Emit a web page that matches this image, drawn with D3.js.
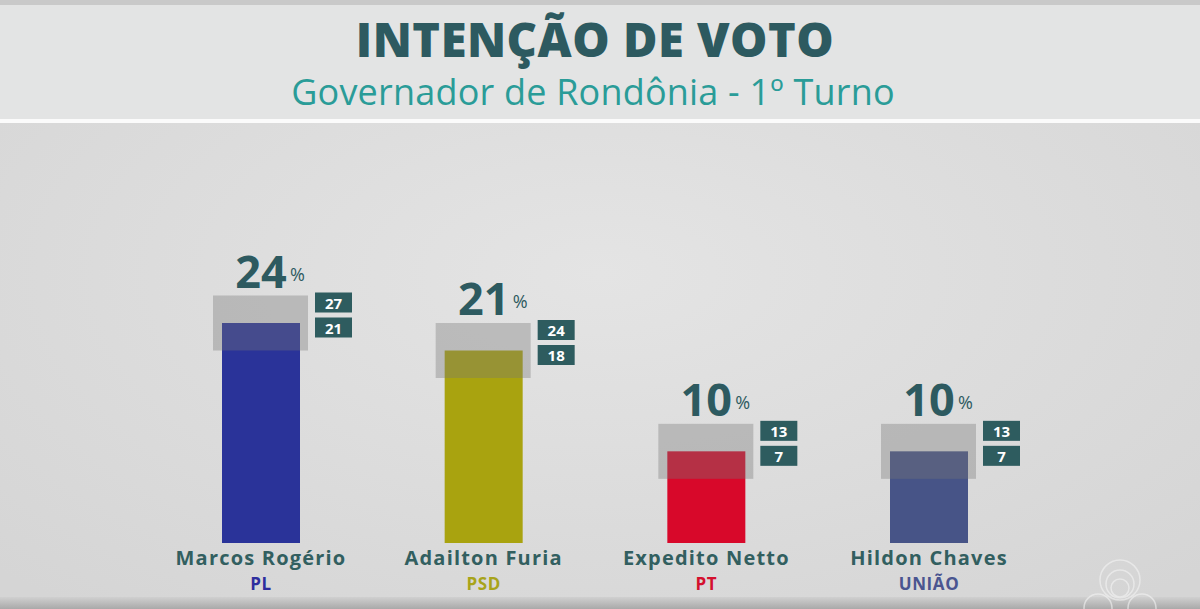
<!DOCTYPE html>
<html>
<head>
<meta charset="utf-8">
<script src="https://cdn.jsdelivr.net/npm/d3@7"></script>
<style>
  html, body { margin: 0; padding: 0; background: #dedede; overflow: hidden; }
  svg { display: block; }
</style>
</head>
<body>
<svg id="chart" width="1200" height="609"></svg>
<script>
// dados da pesquisa
const candidates = ["Marcos Rogério", "Adailton Furia", "Expedito Netto", "Hildon Chaves"];
const parties = ["PL", "PSD", "PT", "UNIÃO"];
const values = [24, 21, 10, 10];
const upper = [27, 24, 13, 13];
const lower = [21, 18, 7, 7];

const barColors = ["#2a3399", "#a9a30f", "#d8082a", "#475487"];
const partyColors = ["#2e2e9e", "#a8a41a", "#d4102e", "#4a5590"];

const teal = "#2d5a60";

const svg = d3.select("#chart"),
    width = +svg.attr("width"),
    height = +svg.attr("height");

const defs = svg.append("defs");
const bgGrad = defs.append("radialGradient").attr("id", "bg")
    .attr("cx", "50%").attr("cy", "45%").attr("r", "70%");
bgGrad.append("stop").attr("offset", "0%").attr("stop-color", "#e4e4e4");
bgGrad.append("stop").attr("offset", "100%").attr("stop-color", "#d5d5d5");

const bottomGrad = defs.append("linearGradient").attr("id", "bottom")
    .attr("x1", 0).attr("y1", 0).attr("x2", 0).attr("y2", 1);
bottomGrad.append("stop").attr("offset", "0%").attr("stop-color", "#d0d0d0");
bottomGrad.append("stop").attr("offset", "100%").attr("stop-color", "#a9a9a9");

// fundo
svg.append("rect").attr("width", width).attr("height", height).attr("fill", "url(#bg)");
svg.append("rect").attr("width", width).attr("height", 121).attr("fill", "#e3e4e4");
svg.append("rect").attr("width", width).attr("height", 5).attr("fill", "#c9c9c9");
svg.append("rect").attr("y", 119).attr("width", width).attr("height", 4).attr("fill", "#fbfbfb");
svg.append("rect").attr("y", 597).attr("width", width).attr("height", 12).attr("fill", "url(#bottom)");

// titulos
svg.append("text")
    .attr("x", 595).attr("y", 57)
    .attr("text-anchor", "middle")
    .style("font-family", "'Open Sans', sans-serif")
    .style("font-weight", 800)
    .style("font-size", "47px")
    .style("letter-spacing", "0.5px")
    .style("fill", teal)
    .text("INTENÇÃO DE VOTO");

svg.append("text")
    .attr("x", 593).attr("y", 105)
    .attr("text-anchor", "middle")
    .style("font-family", "'Open Sans', sans-serif")
    .style("font-weight", 400)
    .style("font-size", "36px")
    .style("letter-spacing", "0.2px")
    .style("fill", "#2a9c98")
    .text("Governador de Rondônia - 1º Turno");

// escalas
const x = d3.scalePoint()
    .domain(candidates)
    .range([261, 929]);

const y = d3.scaleLinear()
    .domain([0, 30])
    .range([543, 268]);

const barW = 78;

const data = candidates.map((c, i) => ({
    name: c, party: parties[i], value: values[i],
    hi: upper[i], lo: lower[i], color: barColors[i], pcolor: partyColors[i]
}));

const g = svg.append("g")
    .selectAll("g")
    .data(data)
    .enter().append("g")
    .attr("transform", d => `translate(${x(d.name)},0)`);

g.append("rect")
    .attr("x", -barW / 2)
    .attr("y", d => y(d.value))
    .attr("width", barW)
    .attr("height", d => y(0) - y(d.value))
    .attr("fill", d => d.color);

// margem de erro
g.append("rect")
    .attr("x", -barW / 2 - 9)
    .attr("y", d => y(d.hi))
    .attr("width", barW + 17)
    .attr("height", d => y(d.lo) - y(d.hi))
    .attr("fill", "#767676")
    .attr("fill-opacity", 0.36);

// caixas com limites
const boxes = [
    { key: "hi", dy: -3 },
    { key: "lo", dy: 22 }
];
boxes.forEach(b => {
    g.append("rect")
        .attr("x", barW / 2 + 15)
        .attr("y", d => y(d.hi) + b.dy)
        .attr("width", 37)
        .attr("height", 20)
        .attr("fill", "#2e5c5f");
    g.append("text")
        .attr("x", barW / 2 + 15 + 18.5)
        .attr("y", d => y(d.hi) + b.dy + 16)
        .attr("text-anchor", "middle")
        .style("font-family", "'Open Sans', sans-serif")
        .style("font-weight", 700)
        .style("font-size", "15px")
        .style("fill", "#ffffff")
        .text(d => d[b.key]);
});

// valor
g.append("text")
    .attr("x", 0)
    .attr("y", d => y(d.hi) - 8)
    .attr("text-anchor", "middle")
    .style("font-family", "'Open Sans', sans-serif")
    .style("font-weight", 700)
    .style("font-size", "45px")
    .style("fill", teal)
    .text(d => d.value);

g.append("text")
    .attr("x", 29)
    .attr("y", d => y(d.hi) - 15)
    .style("font-family", "'Open Sans', sans-serif")
    .style("font-weight", 400)
    .style("font-size", "18px")
    .style("fill", teal)
    .text("%");

// nomes e partidos
g.append("text")
    .attr("y", 565)
    .attr("text-anchor", "middle")
    .style("font-family", "'Open Sans', sans-serif")
    .style("font-weight", 700)
    .style("font-size", "20px")
    .style("letter-spacing", "1.2px")
    .style("fill", "#325f60")
    .text(d => d.name);

g.append("text")
    .attr("y", 590)
    .attr("text-anchor", "middle")
    .style("font-family", "'Open Sans', sans-serif")
    .style("font-weight", 700)
    .style("font-size", "17px")
    .style("letter-spacing", "0.6px")
    .style("fill", d => d.pcolor)
    .text(d => d.party);

// logo ao fundo
const logo = svg.append("g")
    .attr("transform", "translate(1120,580)")
    .attr("fill", "none")
    .attr("stroke", "#f4f4f4")
    .attr("stroke-opacity", 0.6)
    .attr("stroke-width", 1.5);
[20, 14, 9].forEach((r, i) => {
    logo.append("circle").attr("cx", 0).attr("cy", i * 4).attr("r", r);
});
[-22, 22].forEach(dx => {
    logo.append("circle").attr("cx", dx).attr("cy", 28).attr("r", 14);
});
</script>
</body>
</html>
